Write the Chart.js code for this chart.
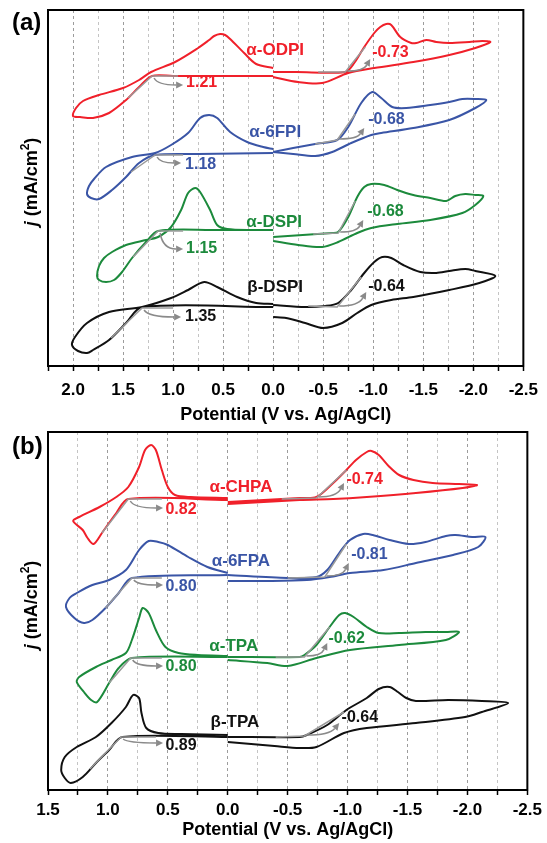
<!DOCTYPE html>
<html><head><meta charset="utf-8">
<script src="https://cdn.jsdelivr.net/npm/chart.js@4.4.1/dist/chart.umd.min.js"></script>
<style>
html,body{margin:0;padding:0;background:#fff;}
#wrap{position:relative;width:547px;height:843px;overflow:hidden;background:#fff;}
#pa{position:absolute;left:0;top:0;}
#pb{position:absolute;left:0;top:420px;}
</style></head><body>
<div id="wrap">
<canvas id="pa" width="547" height="430"></canvas>
<canvas id="pb" width="547" height="423"></canvas>
</div>
<script>
// ---------- Panel (a): potential V (V vs Ag/AgCl), current j (arbitrary offset units) ----------
const odpiOxV  = [0, 0.5, 1.0, 1.21, 1.34, 1.47, 1.64, 1.80, 1.93, 2.0, 1.97, 1.90, 1.74, 1.50, 1.34, 1.22, 0.98, 0.75, 0.64, 0.59, 0.53, 0.48, 0.43, 0.29, 0.17, 0];
const odpiOxJ  = [290, 290, 290, 290, 279, 266, 253, 248, 249, 250, 258, 265, 271, 278, 286, 294, 304, 318, 326, 330, 332, 331, 327, 313, 302, 298];
const odpiRedV = [0, -0.23, -0.72, -0.81, -0.91, -1.01, -1.07, -1.13, -1.18, -1.27, -1.38, -1.43, -1.53, -1.63, -1.76, -1.96, -2.09, -2.17, -2.02, -1.76, -1.40, -1.01, -0.75, -0.49, -0.25, 0];
const odpiRedJ = [294, 294, 294, 303, 319, 333, 339, 342, 341, 329, 323, 323, 326, 324, 323, 324, 325, 324, 318, 311, 304, 298, 293, 283, 284, 289];

const fpiOxV   = [0, 0.75, 1.18, 1.34, 1.47, 1.61, 1.74, 1.82, 1.86, 1.84, 1.79, 1.67, 1.41, 1.18, 1.02, 0.85, 0.73, 0.64, 0.56, 0.43, 0.26, 0.10, 0];
const fpiOxJ   = [213, 212, 211, 203, 189, 176, 167, 168, 172, 180, 187, 199, 209, 213, 221, 233, 248, 251, 248, 234, 224, 219, 217];
const fpiRedV  = [0, -0.20, -0.42, -0.64, -0.75, -0.88, -0.99, -1.08, -1.19, -1.33, -1.57, -1.76, -1.89, -2.02, -2.13, -2.02, -1.76, -1.40, -1.08, -0.98, -0.78, -0.59, -0.42, -0.20, 0];
const fpiRedJ  = [214, 218, 222, 226, 239, 263, 274, 268, 259, 258, 261, 264, 267, 267, 266, 258, 246, 238, 233, 231, 223, 214, 210, 212, 214];

const adspiOxV  = [0, 0.6, 1.15, 1.27, 1.41, 1.51, 1.59, 1.67, 1.74, 1.76, 1.74, 1.69, 1.61, 1.47, 1.27, 1.15, 1.02, 0.92, 0.85, 0.78, 0.73, 0.63, 0.56, 0.46, 0.2, 0];
const adspiOxJ  = [136, 136, 135, 124, 108, 94, 86, 84, 86, 90, 100, 108, 114, 121, 126, 129, 139, 156, 173, 178, 174, 156, 141, 137, 136, 136];
const adspiRedV = [0, -0.59, -0.65, -0.75, -0.84, -0.91, -0.98, -1.11, -1.24, -1.40, -1.57, -1.73, -1.82, -1.92, -2.02, -2.10, -2.02, -1.89, -1.57, -1.24, -0.98, -0.84, -0.65, -0.49, -0.25, 0];
const adspiRedJ = [129, 133, 134, 149, 169, 179, 182, 181, 176, 171, 168, 165, 170, 172, 171, 170, 161, 153, 146, 142, 138, 133, 124, 119, 121, 125];

const bdspiOxV  = [0, 1.31, 1.47, 1.64, 1.80, 1.86, 1.95, 2.01, 1.98, 1.86, 1.64, 1.31, 1.02, 0.85, 0.69, 0.56, 0.36, 0.17, 0];
const bdspiOxJ  = [59, 59, 43, 26, 16, 13, 15, 21, 29, 43, 54, 59, 68, 76, 84, 79, 69, 63, 62];
const bdspiRedV = [0, -0.32, -0.52, -0.65, -0.78, -0.91, -1.01, -1.09, -1.18, -1.30, -1.47, -1.63, -1.76, -1.92, -2.02, -2.22, -2.06, -1.76, -1.40, -1.18, -0.98, -0.84, -0.69, -0.50, -0.32, -0.13, 0];
const bdspiRedJ = [61, 59, 60, 63, 76, 93, 104, 109, 108, 101, 94, 93, 95, 97, 95, 90, 83, 76, 69, 66, 61, 53, 43, 38, 43, 48, 49];

// onset tangents / arrows / values, panel (a)
const onsetAV   = [1.21, -0.72, 1.18, -0.64, 1.15, -0.65, 1.31, -0.64];
const onsetAJ   = [290, 294, 211, 226, 135, 133, 58, 59];
const tanEndAV  = [1.45, -0.92, 1.42, -0.82, 1.40, -0.82, 1.62, -0.88];
const tanEndAJ  = [268, 319, 194, 252, 109, 165, 28, 89];
const baseEndAV = [0.95, -0.45, 0.90, -0.42, 0.90, -0.40, 1.00, -0.35];
const baseEndAJ = [290, 294, 211, 222, 135, 132, 58, 60];
const arrowAV   = [0.90, -0.97, 0.92, -0.91, 0.90, -0.90, 0.92, -0.93];
const arrowAJ   = [281, 307, 203, 238, 117, 146, 49, 74];
const valTextA  = ['1.21', '-0.73', '1.18', '-0.68', '1.15', '-0.68', '1.35', '-0.64'];
const valAV     = [0.87, -0.99, 0.88, -0.95, 0.87, -0.94, 0.88, -0.95];
const valAJ     = [283, 313, 201, 246, 117, 154, 49, 79];
const nameTextA = ['α-ODPI', 'α-6FPI', 'α-DSPI', 'β-DSPI'];
const nameAV    = [-0.02, -0.02, -0.01, -0.02];
const nameAJ    = [316, 234, 144, 79];

// ---------- Panel (b) ----------
const chpaOxV  = [0, 0.83, 0.93, 1.05, 1.12, 1.17, 1.21, 1.29, 1.24, 1.07, 0.93, 0.83, 0.74, 0.69, 0.64, 0.60, 0.55, 0.50, 0.44, 0.31, 0];
const chpaOxJ  = [290, 291, 277, 257, 246, 252, 260, 269, 273, 283, 293, 303, 323, 340, 345, 340, 320, 303, 295, 293, 292];
const chpaRedV = [0, -0.60, -0.74, -0.88, -0.99, -1.07, -1.16, -1.20, -1.26, -1.35, -1.43, -1.55, -1.71, -1.93, -2.08, -1.96, -1.57, -1.16, -0.88, -0.60, 0];
const chpaRedJ = [288, 292, 293, 307, 320, 330, 338, 339, 335, 323, 315, 310, 307, 306, 305, 302, 297, 293, 291, 290, 286];

const fpaOxV   = [0, 0.80, 0.91, 1.02, 1.13, 1.20, 1.28, 1.35, 1.32, 1.26, 1.13, 0.99, 0.85, 0.74, 0.66, 0.58, 0.50, 0.33, 0.17, 0];
const fpaOxJ   = [215, 212, 197, 182, 170, 167, 172, 183, 192, 197, 205, 210, 220, 240, 249, 248, 245, 233, 223, 217];
const fpaRedV  = [0, -0.50, -0.74, -0.83, -0.93, -1.02, -1.13, -1.21, -1.35, -1.51, -1.65, -1.82, -1.90, -2.04, -2.15, -2.09, -1.88, -1.57, -1.30, -1.02, -0.85, -0.66, -0.33, 0];
const fpaRedJ  = [215, 212, 213, 220, 237, 250, 256, 255, 250, 246, 248, 254, 255, 253, 253, 243, 235, 227, 220, 217, 213, 210, 209, 209];

const atpaOxV  = [0, 0.80, 0.91, 0.99, 1.09, 1.14, 1.20, 1.26, 1.24, 1.10, 0.97, 0.85, 0.80, 0.74, 0.71, 0.66, 0.60, 0.52, 0.41, 0.25, 0];
const atpaOxJ  = [133, 132, 122, 107, 88, 90, 98, 108, 113, 123, 130, 137, 150, 172, 182, 177, 160, 143, 137, 135, 134];
const atpaRedV = [0, -0.60, -0.64, -0.74, -0.85, -0.93, -0.98, -1.05, -1.16, -1.26, -1.43, -1.65, -1.82, -1.93, -1.82, -1.43, -1.02, -0.74, -0.50, -0.33, 0];
const atpaRedJ = [133, 133, 135, 145, 163, 175, 177, 173, 163, 157, 157, 158, 158, 158, 150, 145, 140, 132, 124, 127, 130];

const btpaOxV  = [0, 0.88, 0.99, 1.10, 1.21, 1.31, 1.36, 1.39, 1.36, 1.26, 1.10, 0.97, 0.85, 0.79, 0.74, 0.72, 0.68, 0.58, 0.39, 0];
const btpaOxJ  = [53, 53, 40, 27, 13, 7, 12, 20, 33, 43, 53, 67, 83, 95, 92, 77, 62, 57, 56, 55];
const btpaRedV = [0, -0.60, -0.66, -0.83, -0.99, -1.16, -1.26, -1.35, -1.42, -1.49, -1.57, -1.84, -2.12, -2.34, -2.12, -1.98, -1.57, -1.16, -0.97, -0.74, -0.60, -0.39, 0];
const btpaRedJ = [53, 53, 55, 65, 80, 92, 101, 103, 98, 92, 89, 90, 89, 87, 78, 73, 67, 62, 57, 43, 42, 44, 48];

const onsetBV   = [0.83, -0.74, 0.80, -0.81, 0.81, -0.64, 0.89, -0.64];
const onsetBJ   = [291, 292, 212, 213, 132, 133, 53, 54];
const tanEndBV  = [1.05, -0.99, 1.02, -0.99, 0.99, -0.85, 1.15, -0.97];
const tanEndBJ  = [257, 320, 182, 246, 107, 163, 21, 78];
const baseEndBV = [0.55, -0.45, 0.55, -0.50, 0.55, -0.40, 0.60, -0.40];
const baseEndBJ = [291, 291, 212, 212, 132, 133, 53, 53];
const arrowBV   = [0.54, -0.97, 0.54, -1.01, 0.54, -0.83, 0.54, -0.93];
const arrowBJ   = [282, 307, 205, 227, 124, 147, 47, 67];
const valTextB  = ['0.82', '-0.74', '0.80', '-0.81', '0.80', '-0.62', '0.89', '-0.64'];
const valBV     = [0.52, -0.99, 0.52, -1.03, 0.52, -0.84, 0.52, -0.95];
const valBJ     = [280, 310, 203, 235, 123, 151, 44, 72];
const nameTextB = ['α-CHPA', 'α-6FPA', 'α-TPA', 'β-TPA'];
const nameBV    = [-0.11, -0.11, -0.05, -0.06];
const nameBJ    = [303, 229, 144, 68];

// ---------- styling ----------
const RED = '#f0202a', BLUE = '#3a55a6', GREEN = '#1c8a3c', BLACK = '#111111', GRAY = '#8a8a8a';
const FAM = '"Liberation Sans", Arial, Helvetica, sans-serif';
const seriesColors = [RED, BLUE, GREEN, BLACK];
Chart.defaults.font.family = FAM;

const pts = (V, J) => V.map((v, i) => ({x: v, y: J[i]}));
function curve(V, J, color) {
  return {data: pts(V, J), showLine: true, borderColor: color, borderWidth: 2, pointRadius: 0,
          tension: 0.3, fill: false, order: 1};
}
function tangents(onV, onJ, tV, tJ, bV, bJ) {
  return onV.map((v, i) => ({
    data: [{x: tV[i], y: tJ[i]}, {x: v, y: onJ[i]}, {x: bV[i], y: bJ[i]}],
    showLine: true, borderColor: '#9a9a9a', borderWidth: 1.5, pointRadius: 0, tension: 0, order: 0
  }));
}

function annoPlugin(cfg) {
  return {
    id: 'cvAnno',
    afterDatasetsDraw(chart) {
      const ctx = chart.ctx, xs = chart.scales.x, ys = chart.scales.y;
      ctx.save();
      for (let i = 0; i < cfg.onV.length; i++) {
        const sx = xs.getPixelForValue(cfg.onV[i]), sy = ys.getPixelForValue(cfg.onJ[i]);
        const ex = xs.getPixelForValue(cfg.arV[i]), ey = ys.getPixelForValue(cfg.arJ[i]);
        let x0, y0, cx, cy;
        if (cfg.onV[i] > 0) { x0 = sx + 2; y0 = sy + 2; cx = x0 + 0.12 * (ex - x0); cy = ey; }
        else { x0 = sx + 2; y0 = sy - 1; cx = x0 + 0.7 * (ex - x0); cy = y0; }
        ctx.strokeStyle = GRAY; ctx.fillStyle = GRAY; ctx.lineWidth = 1.5;
        const ang = Math.atan2(ey - cy, ex - cx);
        const L = 7, W = 3.5;
        const bx = ex - L * Math.cos(ang), by = ey - L * Math.sin(ang);
        ctx.beginPath(); ctx.moveTo(x0, y0); ctx.quadraticCurveTo(cx, cy, bx, by); ctx.stroke();
        ctx.beginPath();
        ctx.moveTo(ex, ey);
        ctx.lineTo(bx + W * Math.sin(ang), by - W * Math.cos(ang));
        ctx.lineTo(bx - W * Math.sin(ang), by + W * Math.cos(ang));
        ctx.closePath(); ctx.fill();
      }
      ctx.font = 'bold 16px ' + FAM;
      ctx.textBaseline = 'middle';
      ctx.textAlign = 'left';
      for (let i = 0; i < cfg.valT.length; i++) {
        ctx.fillStyle = seriesColors[Math.floor(i / 2)];
        ctx.fillText(cfg.valT[i], xs.getPixelForValue(cfg.valV[i]), ys.getPixelForValue(cfg.valJ[i]));
      }
      ctx.font = 'bold 17px ' + FAM;
      ctx.textAlign = 'center';
      for (let i = 0; i < cfg.nameT.length; i++) {
        ctx.fillStyle = seriesColors[i];
        ctx.fillText(cfg.nameT[i], xs.getPixelForValue(cfg.nameV[i]), ys.getPixelForValue(cfg.nameJ[i]));
      }
      ctx.restore();
    },
    afterDraw(chart) {
      const ctx = chart.ctx, a = chart.chartArea;
      ctx.save();
      ctx.strokeStyle = '#000'; ctx.lineWidth = 2;
      ctx.strokeRect(a.left, a.top, a.right - a.left, a.bottom - a.top);
      // panel letter
      ctx.fillStyle = '#000'; ctx.font = 'bold 24px ' + FAM;
      ctx.textAlign = 'left'; ctx.textBaseline = 'middle';
      ctx.fillText(cfg.letter, 12, cfg.letterY);
      // y title with italic j
      const cyy = (a.top + a.bottom) / 2 - 6;
      ctx.translate(37, cyy); ctx.rotate(-Math.PI / 2);
      ctx.textBaseline = 'alphabetic';
      const fJ = 'italic bold 18px ' + FAM, fN = 'bold 18px ' + FAM, fS = 'bold 12px ' + FAM;
      const parts = [['j', fJ, 0], [' (mA/cm', fN, 0], ['2', fS, -8], [')', fN, 0]];
      let w = 0;
      parts.forEach(p => { ctx.font = p[1]; w += ctx.measureText(p[0]).width; });
      let x = -w / 2;
      parts.forEach(p => { ctx.font = p[1]; ctx.fillText(p[0], x, p[2]); x += ctx.measureText(p[0]).width; });
      ctx.restore();
    }
  };
}

function xScale(min, max, hide, pad, height, titlePad) {
  return {
    type: 'linear', reverse: true, min: min, max: max,
    afterFit: s => { s.height = height; },
    ticks: {
      stepSize: 0.25, autoSkip: false, maxRotation: 0, padding: pad, color: '#000',
      font: {size: 17, weight: 'bold'},
      callback: v => {
        const r = Math.round(v * 100) / 100;
        if (Math.abs(r * 2 - Math.round(r * 2)) > 1e-6) return '';
        if (hide.indexOf(r) >= 0) return '';
        return r.toFixed(1);
      }
    },
    grid: {
      color: c => {
        const v = c.tick ? Math.round(c.tick.value * 100) / 100 : 0;
        if (v === min || v === max) return 'rgba(0,0,0,0)';
        return Math.abs(v * 2 - Math.round(v * 2)) < 1e-6 ? '#9c9c9c' : '#c4c4c4';
      },
      lineWidth: 1, tickLength: 5, tickColor: '#000', tickWidth: 1.5, drawTicks: true
    },
    border: {display: true, color: '#000', width: 2, dash: [3, 3]},
    title: {display: true, text: 'Potential (V vs. Ag/AgCl)', color: '#000',
            font: {size: 18, weight: 'bold'}, padding: {top: 0, bottom: titlePad}}
  };
}
function yScale(max) {
  return {min: 0, max: max, ticks: {display: false}, grid: {display: false},
          border: {display: false}, afterFit: s => { s.width = 48; }};
}

const dsA = [
  curve(odpiOxV, odpiOxJ, RED), curve(odpiRedV, odpiRedJ, RED),
  curve(fpiOxV, fpiOxJ, BLUE), curve(fpiRedV, fpiRedJ, BLUE),
  curve(adspiOxV, adspiOxJ, GREEN), curve(adspiRedV, adspiRedJ, GREEN),
  curve(bdspiOxV, bdspiOxJ, BLACK), curve(bdspiRedV, bdspiRedJ, BLACK)
].concat(tangents(onsetAV, onsetAJ, tanEndAV, tanEndAJ, baseEndAV, baseEndAJ));

const dsB = [
  curve(chpaOxV, chpaOxJ, RED), curve(chpaRedV, chpaRedJ, RED),
  curve(fpaOxV, fpaOxJ, BLUE), curve(fpaRedV, fpaRedJ, BLUE),
  curve(atpaOxV, atpaOxJ, GREEN), curve(atpaRedV, atpaRedJ, GREEN),
  curve(btpaOxV, btpaOxJ, BLACK), curve(btpaRedV, btpaRedJ, BLACK)
].concat(tangents(onsetBV, onsetBJ, tanEndBV, tanEndBJ, baseEndBV, baseEndBJ));

const common = {
  responsive: false, maintainAspectRatio: false, animation: false, devicePixelRatio: 1,
  plugins: {legend: {display: false}, tooltip: {enabled: false}}
};

new Chart(document.getElementById('pa'), {
  type: 'scatter',
  data: {datasets: dsA},
  options: Object.assign({}, common, {
    layout: {padding: {top: 10, right: 16, left: 0, bottom: 0}},
    scales: {x: xScale(-2.5, 2.25, [], 9, 64, 4), y: yScale(356)}
  }),
  plugins: [annoPlugin({onV: onsetAV, onJ: onsetAJ, arV: arrowAV, arJ: arrowAJ,
    valT: valTextA, valV: valAV, valJ: valAJ, nameT: nameTextA, nameV: nameAV, nameJ: nameAJ,
    letter: '(a)', letterY: 23})]
});

new Chart(document.getElementById('pb'), {
  type: 'scatter',
  data: {datasets: dsB},
  options: Object.assign({}, common, {
    layout: {padding: {top: 12, right: 15, left: 0, bottom: 0}},
    scales: {x: xScale(-2.5, 1.5, [], 5, 53, 2), y: yScale(358)}
  }),
  plugins: [annoPlugin({onV: onsetBV, onJ: onsetBJ, arV: arrowBV, arJ: arrowBJ,
    valT: valTextB, valV: valBV, valJ: valBJ, nameT: nameTextB, nameV: nameBV, nameJ: nameBJ,
    letter: '(b)', letterY: 27})]
});
</script></body></html>
